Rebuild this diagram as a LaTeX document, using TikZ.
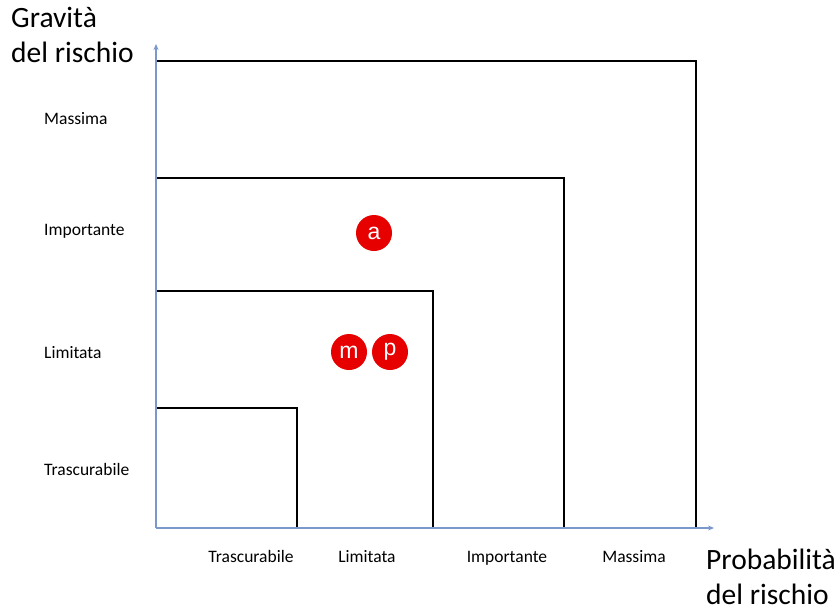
\documentclass[tikz,border=0pt]{standalone}
\usepackage{fontspec}
\setmainfont{Carlito}
\newfontfamily\arialf{Liberation Sans}
\usetikzlibrary{arrows.meta}
\definecolor{axisblue}{HTML}{7A98CC}
\definecolor{dotred}{HTML}{E60000}
\tikzset{
  axisline/.style={draw=axisblue, line width=1.3pt, -{Stealth[length=6pt,width=5pt]}},
  zone/.style={draw=black, line width=1.1pt},
  lbl/.style={font=\fontsize{17.5}{20}\selectfont, inner sep=0pt},
  ttl/.style={font=\fontsize{29.5}{35}\selectfont, align=left, inner sep=0pt, anchor=west},
  dot/.style={circle, fill=dotred, minimum size=36pt, inner sep=0pt, text=white, font=\arialf\fontsize{23}{23}\selectfont}
}
\begin{document}
\begin{tikzpicture}[x=1pt,y=-1pt]
\useasboundingbox (0,0) rectangle (840,611);
% zones
\coordinate (o) at (156,528);
\draw[zone] (o |- 0,408) -- (297,408) -- (297,528);
\draw[zone] (o |- 0,291) -- (433,291) -- (433,528);
\draw[zone] (o |- 0,178) -- (564,178) -- (564,528);
\draw[zone] (o |- 0,61) -- (696,61) -- (696,528);
% axes
\coordinate (ytop) at (156,44);
\coordinate (xend) at (714,528);
\draw[axisline] (o) -- (ytop);
\draw[axisline] (o) -- (xend);
% titles
\node[ttl] (gt) at (11,35) {Gravità\\del rischio};
\node[ttl] (pt) at (706,577) {Probabilità\\del rischio};
% y labels
\node[lbl, anchor=base west] (y4) at (44,124) {Massima};
\node[lbl, anchor=base west] (y3) at (44,235) {Importante};
\node[lbl, anchor=base west] (y2) at (44,358) {Limitata};
\node[lbl, anchor=base west] (y1) at (44,475) {Trascurabile};
% x labels
\node[lbl, anchor=base] (x1) at (251,562) {Trascurabile};
\node[lbl, anchor=base] (x2) at (367,562) {Limitata};
\node[lbl, anchor=base] (x3) at (507,562) {Importante};
\node[lbl, anchor=base] (x4) at (634,562) {Massima};
% dots
\node[dot] (a) at (374,233) {a};
\node[dot] (m) at (349,352) {m};
\node[dot] (p) at (390,352) {p};
\end{tikzpicture}
\end{document}
